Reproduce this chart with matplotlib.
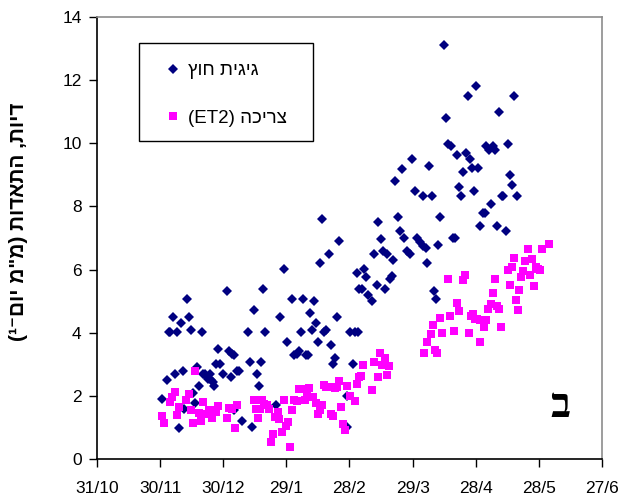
import matplotlib
matplotlib.use("Agg")
import matplotlib.pyplot as plt
from matplotlib.patches import Rectangle

plt.rcParams['font.family'] = ['Liberation Sans', 'DejaVu Sans']

# x = days since 31/10
tick_days = [0, 30, 60, 90, 120, 150, 180, 210, 240]
tick_labels = ["31/10", "30/11", "30/12", "29/1", "28/2", "29/3", "28/4", "28/5", "27/6"]
y_ticks = [0, 2, 4, 6, 8, 10, 12, 14]

pan_days = [31.0, 33.1, 34.2, 34.8, 36.1, 36.9, 38.2, 39.1, 40.1, 40.7, 41.5, 42.6, 43.6, 44.7,
            45.8, 46.7, 47.5, 48.6, 49.8, 50.5, 51.3, 52.1, 52.9, 53.7, 54.2, 55.0, 55.6, 56.6,
            57.7, 58.5, 59.7, 61.6, 62.9, 63.8, 64.0, 65.1, 65.1, 66.4, 67.6, 68.9, 71.9, 72.9,
            73.8, 74.8, 75.9, 77.0, 77.9, 78.8, 80.0, 84.9, 87.0, 88.9, 90.2, 92.8, 93.8, 94.9,
            96.0, 97.1, 98.0, 99.2, 100.3, 101.1, 102.2, 103.1, 104.2, 105.2, 106.0, 107.1, 108.0,
            109.0, 110.1, 111.1, 112.2, 113.3, 114.1, 115.0, 119.0, 119.0, 120.2, 121.8, 122.6,
            123.4, 124.2, 124.7, 125.8, 126.9, 127.9, 129.0, 130.9, 131.8, 132.9, 133.7, 134.8,
            136.1, 136.9, 137.7, 139.3, 140.1, 140.8, 141.8, 142.9, 144.0, 145.0, 146.1, 147.2,
            148.8, 149.9, 151.0, 151.9, 153.5, 154.9, 155.1, 156.4, 157.0, 157.8, 159.1, 160.0,
            161.0, 162.1, 163.0, 165.1, 165.9, 167.0, 168.1, 169.4, 170.2, 171.0, 172.0, 173.1,
            174.1, 175.2, 176.2, 177.3, 178.2, 179.2, 180.1, 181.2, 182.0, 183.6, 184.4, 184.9,
            186.1, 187.3, 188.0, 189.3, 190.3, 191.2, 192.6, 193.1, 194.2, 195.3, 196.3, 197.4,
            198.2, 199.4]
pan_vals = [1.89, 2.49, 4.01, 4.01, 4.49, 2.70, 4.01, 0.99, 4.30, 2.78, 1.59, 5.08, 4.49, 4.08,
            2.10, 1.78, 2.91, 2.31, 4.01, 2.70, 2.70, 2.59, 2.54, 2.68, 2.49, 2.44, 2.31, 3.02,
            3.49, 3.02, 2.70, 5.31, 3.41, 2.59, 3.34, 3.28, 1.54, 2.78, 2.78, 1.19, 4.01, 3.08,
            1.01, 4.73, 2.70, 2.31, 3.08, 5.39, 4.01, 1.72, 4.49, 6.01, 3.72, 5.08, 3.28, 3.34,
            3.42, 4.01, 5.08, 3.30, 3.30, 4.62, 4.08, 5.01, 4.30, 3.72, 6.20, 7.61, 4.01,
            4.08, 6.50, 3.60, 3.00, 3.21, 4.49, 6.90, 1.99, 1.01, 4.01, 3.00, 4.01,
            5.90, 4.01, 5.37, 5.39, 6.03, 5.78, 5.20, 5.00, 6.50, 5.50, 7.50, 6.97,
            6.60, 5.39, 6.50, 5.71, 5.81, 6.31, 8.80, 7.68, 7.21, 9.19, 6.99, 6.60,
            6.50, 9.51, 8.50, 6.99, 6.87, 8.32, 6.76, 6.68, 6.20, 9.28, 8.32, 5.31,
            5.08, 6.79, 7.68, 13.10, 10.81, 9.98, 9.91, 6.99, 6.99, 9.63, 8.62, 8.32,
            9.08, 9.70, 11.51, 9.51, 9.21, 8.50, 11.80, 9.21, 7.39, 7.80, 7.80, 9.91,
            9.80, 8.09, 9.91, 9.80, 7.39, 10.98, 8.32, 8.32, 7.21, 9.98, 8.98, 8.68,
            11.51, 8.32]

et_days = [30.7, 31.8, 34.7, 35.8, 36.9, 37.9, 38.8, 42.3, 43.6, 44.5, 45.5, 46.4, 48.5, 49.6,
           50.4, 51.3, 53.4, 54.5, 55.3, 56.4, 57.4, 61.6, 62.6, 64.0, 65.4, 66.5, 74.5, 75.6,
           76.7, 77.5, 78.6, 79.5, 80.7, 81.7, 82.7, 83.8, 84.6, 85.9, 86.6, 87.8, 88.9, 89.8,
           90.8, 91.9, 92.8, 93.8, 94.9, 96.2, 97.1, 98.7, 99.8, 100.8, 102.8, 103.9, 105.2,
           106.0, 106.8, 107.9, 109.0, 110.1, 111.1, 112.2, 113.0, 113.9, 115.0, 116.0, 117.1,
           118.0, 119.0, 120.2, 122.6, 123.4, 124.7, 125.5, 126.4, 130.6, 131.5, 133.5, 134.5,
           135.6, 136.7, 137.7, 138.6, 155.3, 156.6, 158.6, 159.7, 160.6, 161.7, 162.9, 163.8,
           166.8, 167.8, 169.8, 170.9, 171.9, 173.8, 174.9, 176.8, 177.9, 178.9, 179.8, 180.7,
           181.9, 182.0, 183.3, 183.9, 184.7, 186.0, 187.1, 188.0, 189.2, 189.9, 191.2, 192.0,
           195.2, 196.1, 197.1, 198.0, 199.2, 200.1, 200.6, 201.5, 202.5, 203.6, 204.7, 205.6,
           206.6, 207.7, 208.8, 209.8, 210.7, 211.7, 214.7]
et_vals = [1.36, 1.15, 1.79, 1.96, 2.13, 1.38, 1.65, 1.86, 2.07, 1.56, 1.15, 2.78, 1.47, 1.20,
           1.80, 1.42, 1.54, 1.31, 1.56, 1.49, 1.69, 1.31, 1.61, 1.59, 0.97, 1.70, 1.87, 1.57,
           1.31, 1.59, 1.87, 1.75, 1.70, 1.57, 0.53, 0.80, 1.33, 1.49, 1.28, 0.84, 1.88, 1.03,
           1.17, 0.38, 1.54, 1.86, 1.83, 2.21, 2.21, 1.86, 2.07, 2.26, 1.96, 1.77, 1.44,
           1.54, 1.70, 2.35, 2.28, 2.28, 1.41, 1.36, 2.25, 2.28, 2.47, 1.65, 1.12,
           0.91, 2.30, 1.99, 1.83, 2.39, 2.59, 2.62, 2.99, 2.20, 3.07, 2.59, 3.35,
           2.99, 3.21, 2.65, 2.94, 3.35, 3.72, 3.95, 4.24, 3.44, 3.37, 4.47, 3.99,
           5.70, 4.52, 4.07, 4.95, 4.70, 5.66, 5.84, 3.99, 4.52, 4.60, 4.43, 4.44,
           4.39, 3.72, 4.39, 4.17, 4.41, 4.76, 4.90, 5.25, 5.70, 4.86, 4.76, 4.17,
           5.99, 5.52, 6.08, 6.37, 5.04, 4.73, 5.36, 5.76, 5.97, 6.26, 6.66, 5.84,
           6.34, 5.47, 6.08, 6.03, 5.99, 6.66, 6.82]

label_pan = "ץוח תיגיג"          # גיגית חוץ (visual order)
label_et = "(ET2) הכירצ"         # צריכה (ET2) (visual order)
ylabel = "(¹⁻םוי מ\"מ) תודאתה ,תויד"  # דיות, התאדות (מ"מ יום⁻¹)
panel_letter = "ב"

fig = plt.figure(figsize=(6.32, 4.98), dpi=100)
ax = fig.add_axes([0.1535, 0.0783, 0.7990, 0.8876])

ax.plot(pan_days, pan_vals, linestyle='none', marker='D', markersize=5.4,
        color='#000080', markeredgewidth=0, label=label_pan)
ax.plot(et_days, et_vals, linestyle='none', marker='s', markersize=5.4,
        color='#FF00FF', markeredgewidth=0, label=label_et)

ax.set_xlim(0, 240)
ax.set_ylim(0, 14)
ax.set_xticks(tick_days)
ax.set_xticklabels(tick_labels)
ax.set_yticks(y_ticks)
ax.tick_params(axis='both', direction='out', length=6, width=1, labelsize=12.5, colors='black')
ax.tick_params(axis='x', pad=10)
ax.tick_params(axis='y', pad=5)
for s in ['left', 'bottom']:
    ax.spines[s].set_color('black')
    ax.spines[s].set_linewidth(1.2)
for s in ['top', 'right']:
    ax.spines[s].set_color('#8c8c8c')
    ax.spines[s].set_linewidth(1.2)

ax.set_ylabel(ylabel, fontsize=15, fontweight='bold')
ax.yaxis.set_label_coords(-0.137, 0.536)

# legend frame
ax.add_patch(Rectangle((0.083, 0.720), 0.344, 0.2205, transform=ax.transAxes,
                       fill=False, edgecolor='black', linewidth=1, zorder=5))
leg = ax.legend(loc='upper left', bbox_to_anchor=(0.139, 0.898), frameon=False,
                fontsize=13.5, handlelength=0.6, handletextpad=0.5, labelspacing=1.62,
                borderaxespad=0, borderpad=0)

ax.text(0.917, 0.118, panel_letter, transform=ax.transAxes, fontsize=30,
        fontweight='bold', ha='center', va='center',
        family=['Liberation Serif', 'DejaVu Sans'])

fig.savefig("out.png", dpi=100)
